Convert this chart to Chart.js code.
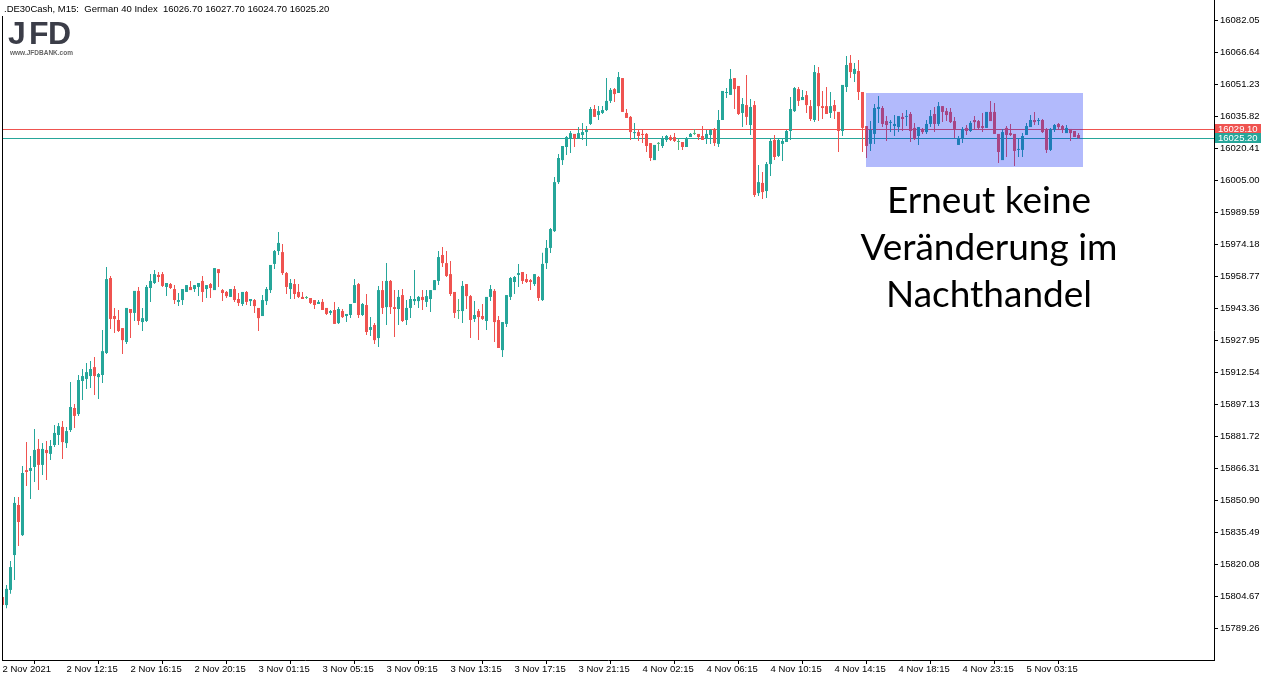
<!DOCTYPE html>
<html lang="de">
<head>
<meta charset="utf-8">
<title>.DE30Cash M15</title>
<script src="https://cdn.jsdelivr.net/npm/chart.js@4.4.0/dist/chart.umd.min.js"></script>
<style>
  html, body { margin: 0; padding: 0; background: #fff; }
  canvas { display: block; }
</style>
</head>
<body>
<canvas id="grafico" width="1272" height="681"></canvas>
<script>
// KERZEN (M15), von links nach rechts
const opens = [
  15804.2, 15800.3, 15807.6, 15824.4, 15848.5, 15834.0, 15865.3, 15864.9, 15866.8, 15875.5,
  15867.8, 15875.0, 15873.1, 15877.4, 15882.2, 15886.1, 15878.3, 15884.6, 15895.2, 15892.3,
  15908.2, 15909.2, 15910.6, 15914.9, 15910.1, 15911.1, 15921.7, 15957.8, 15939.5, 15937.6,
  15933.7, 15927.0, 15942.9, 15941.0, 15951.6, 15936.6, 15937.1, 15953.0, 15955.4, 15959.3,
  15959.7, 15953.5, 15954.9, 15952.5, 15946.3, 15947.2, 15951.1, 15953.5, 15952.5, 15953.5,
  15956.4, 15952.5, 15954.9, 15952.0, 15962.1, 15952.0, 15951.1, 15948.7, 15952.5, 15947.7,
  15945.3, 15951.1, 15946.7, 15947.2, 15943.4, 15939.5, 15946.7, 15952.0, 15964.6, 15970.8,
  15970.3, 15960.2, 15952.5, 15954.9, 15951.1, 15948.7, 15948.2, 15948.2, 15947.2, 15945.3,
  15946.3, 15943.4, 15941.0, 15942.4, 15936.1, 15941.9, 15939.5, 15940.0, 15945.8, 15954.9,
  15940.0, 15944.8, 15932.8, 15935.2, 15928.9, 15952.0, 15943.8, 15956.4, 15943.8, 15942.9,
  15949.6, 15937.6, 15943.4, 15946.7, 15946.7, 15948.7, 15946.3, 15947.7, 15952.0, 15956.4,
  15968.9, 15965.0, 15959.7, 15951.1, 15941.9, 15941.9, 15954.9, 15949.1, 15938.1, 15941.9,
  15939.5, 15937.1, 15948.7, 15951.6, 15937.6, 15923.1, 15935.7, 15948.7, 15955.9, 15959.3,
  15960.7, 15957.3, 15956.8, 15954.9, 15958.3, 15947.2, 15965.0, 15972.3, 15980.4, 16004.0,
  16014.6, 16020.9, 16024.8, 16027.2, 16024.8, 16026.7, 16028.1, 16032.0, 16039.2, 16036.3,
  16037.3, 16038.7, 16043.1, 16048.8, 16046.9, 16054.1, 16037.3, 16035.4, 16027.6, 16028.1,
  16027.2, 16027.2, 16022.8, 16014.6, 16022.4, 16021.4, 16024.3, 16025.7, 16025.7, 16023.3,
  16023.3, 16020.9, 16025.7, 16027.2, 16027.2, 16026.2, 16025.2, 16026.7, 16029.6, 16022.4,
  16033.9, 16046.9, 16046.0, 16054.1, 16050.3, 16037.3, 16041.1, 16031.5, 16041.1, 15998.7,
  16003.6, 15999.7, 16012.7, 16024.3, 16016.6, 16022.4, 16023.3, 16028.6, 16038.2, 16048.8,
  16043.5, 16045.9, 16040.6, 16033.9, 16056.5, 16040.6, 16040.6, 16037.3, 16041.1, 16037.8,
  16028.6, 16049.8, 16061.4, 16056.1, 16057.5, 16047.4, 16031.0, 16022.4, 16027.2, 16039.2,
  16039.7, 16033.4, 16032.5, 16031.0, 16030.5, 16035.4, 16035.4, 16036.8, 16030.1, 16026.2,
  16029.6, 16028.1, 16032.0, 16036.8, 16032.0, 16040.6, 16038.2, 16037.8, 16033.4, 16021.9,
  16025.2, 16030.1, 16028.6, 16033.9, 16033.4, 16031.0, 16030.1, 16037.8, 16037.8, 16027.2,
  16014.6, 16030.1, 16027.6, 16027.2, 16019.5, 16019.5, 16026.7, 16030.5, 16033.9, 16033.4,
  16033.9, 16029.1, 16019.5, 16029.1, 16032.0, 16031.0, 16027.6, 16029.6, 16028.6, 16026.7
];
const highs = [
  15805.7, 15810.0, 15821.5, 15852.3, 15852.3, 15867.3, 15878.8, 15872.1, 15885.1, 15880.3,
  15878.3, 15879.3, 15879.8, 15887.0, 15888.0, 15889.0, 15886.1, 15907.7, 15897.1, 15911.1,
  15914.0, 15916.9, 15917.8, 15919.8, 15912.1, 15932.8, 15963.1, 15958.8, 15943.4, 15942.4,
  15933.7, 15943.4, 15942.9, 15951.6, 15953.5, 15943.4, 15954.4, 15959.7, 15961.7, 15960.7,
  15960.7, 15955.4, 15955.4, 15954.4, 15950.6, 15952.5, 15954.4, 15956.4, 15954.4, 15955.4,
  15958.8, 15954.4, 15955.4, 15962.6, 15962.1, 15952.5, 15951.6, 15952.5, 15954.0, 15950.6,
  15951.1, 15951.6, 15947.7, 15947.7, 15943.4, 15949.6, 15953.5, 15964.1, 15971.3, 15980.0,
  15974.2, 15960.7, 15957.3, 15957.3, 15954.9, 15951.1, 15949.1, 15948.2, 15947.2, 15947.2,
  15947.7, 15943.4, 15942.4, 15946.3, 15943.8, 15942.9, 15940.5, 15945.3, 15957.3, 15955.4,
  15945.8, 15950.1, 15939.0, 15936.1, 15954.0, 15956.4, 15965.0, 15956.8, 15952.0, 15952.0,
  15952.5, 15947.2, 15949.1, 15961.7, 15949.1, 15952.0, 15952.0, 15952.0, 15956.8, 15970.8,
  15972.7, 15970.8, 15966.0, 15951.1, 15947.7, 15956.4, 15954.9, 15949.6, 15946.7, 15942.9,
  15945.3, 15948.7, 15954.4, 15952.5, 15939.5, 15936.6, 15949.6, 15958.3, 15958.8, 15964.6,
  15960.7, 15959.7, 15957.3, 15959.7, 15958.8, 15970.0, 15976.1, 15981.9, 16006.5, 16017.5,
  16021.4, 16026.2, 16028.6, 16027.2, 16030.5, 16032.5, 16031.0, 16040.2, 16041.1, 16040.6,
  16040.6, 16054.1, 16049.3, 16049.3, 16057.0, 16054.1, 16039.2, 16035.8, 16032.5, 16029.6,
  16029.1, 16027.6, 16022.8, 16021.9, 16023.3, 16026.2, 16026.7, 16026.7, 16027.6, 16025.2,
  16023.3, 16025.7, 16027.6, 16029.6, 16027.2, 16031.0, 16029.1, 16029.6, 16030.1, 16038.7,
  16047.9, 16049.3, 16058.5, 16054.1, 16050.3, 16044.5, 16055.6, 16044.0, 16043.1, 16012.2,
  16008.9, 16013.7, 16024.8, 16026.7, 16024.8, 16025.2, 16029.1, 16045.0, 16049.8, 16049.8,
  16048.4, 16047.9, 16043.5, 16060.4, 16059.4, 16047.9, 16049.8, 16047.4, 16043.5, 16037.8,
  16050.8, 16064.7, 16065.2, 16061.4, 16062.8, 16047.4, 16031.0, 16033.4, 16041.6, 16045.5,
  16040.6, 16035.8, 16033.9, 16036.3, 16035.8, 16037.3, 16038.7, 16037.8, 16032.5, 16030.5,
  16030.1, 16033.9, 16038.7, 16040.2, 16042.6, 16040.6, 16039.7, 16039.7, 16035.4, 16026.2,
  16030.5, 16031.5, 16033.4, 16035.8, 16033.9, 16037.3, 16037.8, 16043.1, 16042.1, 16027.2,
  16029.6, 16031.0, 16032.0, 16027.2, 16025.2, 16027.6, 16032.5, 16036.3, 16037.8, 16034.9,
  16034.4, 16030.1, 16030.1, 16032.0, 16032.5, 16031.5, 16031.5, 16029.6, 16028.6, 16027.7
];
const lows = [
  15799.8, 15798.8, 15805.7, 15812.4, 15828.7, 15833.6, 15857.6, 15851.4, 15859.6, 15855.7,
  15862.9, 15860.5, 15870.2, 15876.4, 15877.4, 15870.6, 15875.9, 15883.6, 15885.6, 15891.4,
  15899.1, 15904.4, 15904.8, 15901.5, 15899.5, 15907.2, 15921.2, 15933.3, 15931.3, 15931.8,
  15921.2, 15926.0, 15928.9, 15937.1, 15935.2, 15932.3, 15936.6, 15946.3, 15954.9, 15955.9,
  15953.5, 15949.1, 15952.5, 15945.3, 15944.3, 15944.8, 15951.1, 15952.0, 15951.1, 15949.1,
  15946.3, 15948.2, 15948.2, 15952.0, 15953.5, 15946.7, 15948.2, 15948.7, 15946.3, 15944.3,
  15944.3, 15944.8, 15944.3, 15941.0, 15932.3, 15939.5, 15944.8, 15950.6, 15962.1, 15968.9,
  15959.3, 15950.1, 15947.7, 15947.7, 15948.2, 15947.7, 15947.7, 15945.3, 15942.9, 15945.3,
  15942.4, 15940.0, 15940.0, 15935.7, 15935.7, 15938.5, 15936.6, 15938.5, 15945.8, 15938.5,
  15939.5, 15930.4, 15929.9, 15926.0, 15924.6, 15940.5, 15935.2, 15940.5, 15929.4, 15935.2,
  15936.6, 15935.2, 15938.5, 15944.8, 15943.4, 15942.4, 15943.8, 15941.4, 15952.0, 15954.4,
  15963.1, 15958.3, 15949.1, 15938.5, 15938.1, 15936.1, 15942.9, 15928.9, 15936.6, 15927.9,
  15937.6, 15932.8, 15946.7, 15927.0, 15924.1, 15919.8, 15934.2, 15947.2, 15950.1, 15953.5,
  15954.9, 15955.4, 15952.0, 15954.0, 15946.7, 15946.7, 15962.1, 15969.9, 15980.0, 16003.1,
  16012.2, 16017.1, 16018.0, 16020.9, 16024.8, 16024.3, 16021.4, 16031.5, 16035.4, 16033.9,
  16036.8, 16038.2, 16042.1, 16042.6, 16046.9, 16037.8, 16034.9, 16024.3, 16025.2, 16023.8,
  16022.8, 16018.5, 16014.2, 16014.6, 16019.0, 16020.4, 16023.3, 16023.8, 16023.3, 16019.5,
  16019.5, 16020.9, 16025.7, 16026.7, 16024.3, 16024.3, 16022.4, 16022.4, 16021.4, 16020.9,
  16033.9, 16044.5, 16046.0, 16039.2, 16036.3, 16030.5, 16031.5, 16026.7, 15996.8, 15997.3,
  15995.9, 15996.3, 16006.9, 16014.6, 16016.1, 16014.2, 16023.3, 16024.3, 16037.8, 16040.6,
  16043.5, 16037.3, 16033.4, 16032.9, 16033.4, 16034.4, 16036.8, 16034.9, 16034.4, 16018.5,
  16026.2, 16047.4, 16054.1, 16052.2, 16043.5, 16018.5, 16015.6, 16019.0, 16022.4, 16032.5,
  16030.5, 16023.8, 16028.1, 16026.2, 16028.1, 16028.6, 16031.0, 16023.3, 16024.3, 16021.9,
  16027.2, 16027.2, 16030.5, 16028.1, 16031.0, 16032.9, 16033.4, 16032.5, 16025.2, 16021.9,
  16022.8, 16026.7, 16028.1, 16029.6, 16029.1, 16028.1, 16030.1, 16033.4, 16027.2, 16013.2,
  16014.6, 16016.1, 16026.2, 16011.8, 16016.1, 16016.1, 16026.7, 16030.5, 16031.5, 16031.5,
  16027.6, 16018.0, 16019.0, 16028.1, 16029.6, 16027.6, 16027.6, 16023.8, 16025.7, 16024.7
];
const closes = [
  15800.3, 15808.1, 15818.6, 15849.5, 15840.3, 15863.9, 15864.4, 15866.3, 15875.0, 15867.8,
  15875.5, 15873.5, 15876.9, 15883.2, 15886.5, 15878.8, 15884.1, 15895.7, 15891.4, 15908.7,
  15910.6, 15912.5, 15914.0, 15910.6, 15911.6, 15922.6, 15957.3, 15938.1, 15938.1, 15932.3,
  15927.9, 15943.4, 15941.0, 15951.6, 15937.1, 15938.5, 15953.5, 15956.4, 15959.7, 15958.3,
  15954.0, 15955.4, 15953.0, 15947.2, 15947.2, 15952.5, 15954.4, 15952.0, 15954.4, 15955.4,
  15951.1, 15954.4, 15953.0, 15962.6, 15960.2, 15950.6, 15949.1, 15952.5, 15947.2, 15945.8,
  15951.1, 15946.3, 15947.7, 15944.3, 15938.5, 15947.2, 15952.5, 15964.1, 15970.8, 15974.7,
  15960.2, 15953.5, 15955.4, 15950.1, 15948.7, 15947.7, 15948.2, 15945.8, 15944.8, 15946.3,
  15942.4, 15940.5, 15941.9, 15935.7, 15942.9, 15939.0, 15940.5, 15945.3, 15954.4, 15940.0,
  15945.3, 15931.8, 15934.2, 15927.9, 15952.0, 15943.4, 15956.4, 15943.8, 15942.9, 15948.7,
  15937.1, 15943.4, 15947.7, 15947.7, 15948.7, 15947.2, 15949.1, 15952.0, 15956.8, 15967.9,
  15965.0, 15958.8, 15950.1, 15941.0, 15941.9, 15954.0, 15949.1, 15937.6, 15940.0, 15939.0,
  15938.1, 15948.7, 15952.5, 15936.6, 15924.1, 15936.6, 15949.6, 15957.8, 15958.3, 15960.2,
  15956.4, 15955.9, 15955.9, 15959.7, 15948.2, 15964.6, 15972.3, 15981.4, 16004.0, 16015.6,
  16021.4, 16025.7, 16027.6, 16024.8, 16027.6, 16028.1, 16029.1, 16039.2, 16035.4, 16038.2,
  16038.7, 16043.1, 16048.4, 16046.4, 16054.6, 16037.8, 16034.9, 16028.1, 16028.1, 16026.2,
  16026.7, 16021.4, 16015.6, 16021.9, 16022.4, 16025.2, 16026.2, 16024.3, 16023.8, 16023.3,
  16020.9, 16025.2, 16027.2, 16027.2, 16025.7, 16024.3, 16027.2, 16029.1, 16022.8, 16033.9,
  16047.9, 16047.4, 16053.7, 16048.8, 16036.8, 16041.6, 16035.4, 16040.2, 15997.8, 16004.0,
  15999.2, 16012.7, 16023.8, 16016.1, 16024.3, 16023.8, 16028.6, 16039.2, 16049.3, 16043.1,
  16045.0, 16041.1, 16034.4, 16057.0, 16040.6, 16039.7, 16036.8, 16040.6, 16038.2, 16028.6,
  16050.8, 16060.4, 16057.0, 16058.5, 16047.4, 16030.1, 16021.4, 16029.1, 16039.7, 16040.2,
  16032.0, 16031.5, 16033.0, 16032.0, 16035.8, 16034.4, 16035.8, 16028.6, 16024.8, 16030.5,
  16028.1, 16032.0, 16035.8, 16032.0, 16040.6, 16037.8, 16036.3, 16032.9, 16029.6, 16025.2,
  16029.6, 16028.6, 16032.5, 16032.9, 16030.1, 16030.1, 16037.8, 16033.4, 16027.2, 16018.5,
  16028.1, 16026.7, 16026.7, 16019.0, 16019.9, 16026.2, 16031.0, 16033.9, 16032.9, 16033.9,
  16028.1, 16019.5, 16029.6, 16031.5, 16030.5, 16029.1, 16030.1, 16027.6, 16025.7, 16025.2
];

// ACHSEN
const timeTickIndex = [0, 16, 32, 48, 64, 80, 96, 112, 128, 144, 160, 176, 192, 208, 224, 240, 256];
const timeLabels = [
  "2 Nov 2021", "2 Nov 12:15", "2 Nov 16:15", "2 Nov 20:15", "3 Nov 01:15", "3 Nov 05:15",
  "3 Nov 09:15", "3 Nov 13:15", "3 Nov 17:15", "3 Nov 21:15", "4 Nov 02:15", "4 Nov 06:15",
  "4 Nov 10:15", "4 Nov 14:15", "4 Nov 18:15", "4 Nov 23:15", "5 Nov 03:15"
];
const priceTicks = [
  15789.26, 15804.67, 15820.08, 15835.49, 15850.90, 15866.31, 15881.72, 15897.13, 15912.54, 15927.95,
  15943.36, 15958.77, 15974.18, 15989.59, 16005.00, 16020.41, 16035.82, 16051.23, 16066.64, 16082.05
];

// LINIEN, BOX, TEXT
const askPrice = 16029.10;
const bidPrice = 16025.20;
const boxFrom = 215.9;
const boxTo = 270.15;
const boxHigh = 16046.9;
const boxLow = 16011.3;
const header = ".DE30Cash, M15:  German 40 Index  16026.70 16027.70 16024.70 16025.20";
const noteLines = ["Erneut keine", "Veränderung im", "Nachthandel"];

const UP = "#26a69a";
const DOWN = "#ef5350";
const DOJI = "#4cb782";
const FONT = '"Liberation Sans", Arial, sans-serif';

const idx = opens.map((_, i) => i);
const farben = idx.map(i => closes[i] > opens[i] ? UP : (closes[i] < opens[i] ? DOWN : DOJI));

// ZEICHNEN (Linien, Box, Texte)
const extras = {
    id: "extras",
    beforeDatasetsDraw(chart) {
        const { ctx, chartArea: a, scales: { y } } = chart;
        ctx.save();
        [[askPrice, DOWN], [bidPrice, UP]].forEach(([v, c]) => {
            const py = Math.floor(y.getPixelForValue(v)) + 0.5;
            ctx.strokeStyle = c;
            ctx.lineWidth = 1;
            ctx.beginPath();
            ctx.moveTo(a.left, py);
            ctx.lineTo(a.right, py);
            ctx.stroke();
        });
        ctx.restore();
    },
    afterDatasetsDraw(chart) {
        const { ctx, scales: { x, y } } = chart;
        const x0 = Math.round(x.getPixelForValue(boxFrom));
        const x1 = Math.round(x.getPixelForValue(boxTo));
        const y0 = Math.round(y.getPixelForValue(boxHigh));
        const y1 = Math.round(y.getPixelForValue(boxLow));
        ctx.save();
        ctx.fillStyle = "rgba(15, 40, 245, 0.32)";
        ctx.fillRect(x0, y0, x1 - x0, y1 - y0);
        ctx.restore();
    },
    afterDraw(chart) {
        const { ctx, chartArea: a, scales: { y } } = chart;
        ctx.save();

        // linker Rahmen
        ctx.fillStyle = "#000";
        ctx.fillRect(a.left, 16, 1, a.bottom - 16);

        // Kopfzeile
        ctx.font = "9.5px " + FONT;
        ctx.textBaseline = "middle";
        ctx.textAlign = "left";
        ctx.fillText(header, 4, 9);

        // Logo
        ctx.fillStyle = "#3b3d48";
        ctx.font = "bold 32px " + FONT;
        ctx.textBaseline = "alphabetic";
        ctx.fillText("J", 8, 44);
        ctx.fillText("F", 29, 44);
        ctx.fillText("D", 48, 44);
        ctx.fillStyle = "#666";
        ctx.font = "bold 6.5px " + FONT;
        ctx.fillText("www.JFDBANK.com", 10, 55);

        // Kommentar
        ctx.fillStyle = "#000";
        ctx.font = '37px Lato, "Open Sans", sans-serif';
        ctx.textAlign = "center";
        noteLines.forEach((t, i) => ctx.fillText(t, 989, 213 + i * 47));

        // Preisschilder rechts
        ctx.font = "9.5px " + FONT;
        ctx.textAlign = "left";
        ctx.textBaseline = "middle";
        [[askPrice, DOWN], [bidPrice, UP]].forEach(([v, c]) => {
            const py = Math.floor(y.getPixelForValue(v)) + 0.5;
            ctx.fillStyle = c;
            ctx.fillRect(a.right + 1, Math.round(py - 5.5), 46, 10);
            ctx.fillStyle = "#fff";
            ctx.fillText(v.toFixed(2), a.right + 4, py);
        });
        ctx.restore();
    }
};

const ctx = document.getElementById("grafico").getContext("2d");

new Chart(ctx, {
    type: "bar",
    data: {
        datasets: [
            {
                label: "Docht",
                data: idx.map(i => ({ x: i, y: [lows[i], highs[i]] })),
                backgroundColor: farben,
                barThickness: 1,
                grouped: false,
                borderWidth: 0,
                inflateAmount: 0,
                order: 2
            },
            {
                label: "Körper",
                data: idx.map(i => ({ x: i, y: [opens[i], closes[i]] })),
                backgroundColor: farben,
                barThickness: 3,
                minBarLength: 1,
                grouped: false,
                borderWidth: 0,
                inflateAmount: 0,
                order: 1
            }
        ]
    },
    options: {
        responsive: false,
        devicePixelRatio: 1,
        animation: false,
        layout: { autoPadding: false, padding: { left: 2, right: 0, top: 0, bottom: 0 } },
        plugins: {
            legend: { display: false },
            tooltip: { enabled: false },
            title: { display: false }
        },
        scales: {
            x: {
                type: "linear",
                min: -0.125,
                max: 302.875,
                offset: false,
                border: { display: true, color: "#000" },
                grid: { drawOnChartArea: false, drawTicks: true, tickLength: 4, color: "#000" },
                afterBuildTicks: s => { s.ticks = timeTickIndex.map(v => ({ value: v })); },
                afterFit: s => { s.height = 21; s.paddingLeft = 0; s.paddingRight = 0; },
                ticks: {
                    autoSkip: false,
                    maxRotation: 0,
                    align: "start",
                    padding: 0,
                    color: "#000",
                    font: { family: FONT, size: 9.5 },
                    callback: (v, i) => timeLabels[i]
                }
            },
            y: {
                type: "linear",
                position: "right",
                min: 15773.85,
                max: 16091.7,
                border: { display: true, color: "#000" },
                grid: { drawOnChartArea: false, drawTicks: true, tickLength: 4, color: "#000" },
                afterBuildTicks: s => { s.ticks = priceTicks.map(v => ({ value: v })); },
                afterFit: s => { s.width = 58; s.paddingTop = 0; s.paddingBottom = 0; },
                ticks: {
                    padding: 2,
                    color: "#000",
                    font: { family: FONT, size: 9.5 },
                    callback: v => Number(v).toFixed(2)
                }
            }
        }
    },
    plugins: [extras]
});
</script>
</body>
</html>
